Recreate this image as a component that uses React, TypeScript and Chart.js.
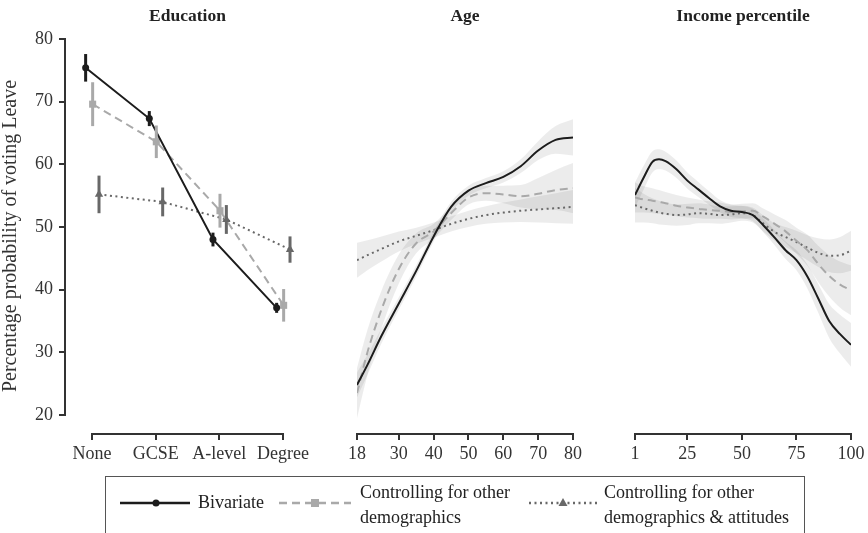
import React, { useEffect, useRef } from 'react';
import { Chart, registerables } from 'chart.js';

Chart.register(...registerables);

const FONT = '"Liberation Serif", "Times New Roman", serif';

// ---------- data ----------
const yTicks = [20, 30, 40, 50, 60, 70, 80];

const eduCategories = ['None', 'GCSE', 'A-level', 'Degree'];
const eduTicks = [1, 2, 3, 4];
const eduBivariate = [75.4, 67.3, 48.0, 37.1];
const eduBivariateErr = [2.2, 1.2, 1.1, 0.8];
const eduDemog = [69.6, 63.6, 52.6, 37.5];
const eduDemogErr = [3.5, 2.6, 2.7, 2.6];
const eduAttit = [55.2, 54.0, 51.2, 46.4];
const eduAttitErr = [3.0, 2.3, 2.3, 2.1];

const ageX = [18, 21, 25, 30, 35, 40, 45, 50, 55, 60, 65, 70, 75, 80];
const ageTicks = [18, 30, 40, 50, 60, 70, 80];
const ageBivariate = [24.8, 28.0, 32.6, 37.8, 43.0, 48.5, 53.2, 55.8, 57.0, 58.0, 59.7, 62.2, 63.9, 64.3];
const ageBivariateSe = [2.0, 1.6, 1.2, 1.0, 0.9, 0.8, 0.8, 0.8, 0.8, 0.9, 1.1, 1.5, 2.2, 2.9];
const ageDemog = [23.5, 30.0, 36.8, 43.3, 47.4, 49.3, 52.2, 54.7, 55.4, 55.2, 54.9, 55.3, 55.9, 56.2];
const ageDemogSe = [4.0, 3.6, 3.0, 2.3, 1.6, 1.2, 1.1, 1.1, 1.2, 1.4, 1.8, 2.5, 3.2, 4.0];
const ageAttit = [44.7, 45.5, 46.5, 47.7, 48.6, 49.5, 50.5, 51.3, 51.9, 52.3, 52.6, 52.8, 53.0, 53.2];
const ageAttitSe = [2.8, 2.4, 2.0, 1.6, 1.3, 1.2, 1.2, 1.3, 1.4, 1.6, 1.8, 2.1, 2.4, 2.7];

const incX = [1, 5, 9, 12, 15, 20, 25, 30, 35, 40, 45, 50, 55, 60, 65, 70, 75, 80, 85, 90, 95, 100];
const incTicks = [1, 25, 50, 75, 100];
const incBivariate = [55.1, 57.9, 60.4, 60.8, 60.5, 59.2, 57.4, 56.0, 54.6, 53.3, 52.6, 52.4, 51.9, 50.2, 48.3, 46.3, 44.7, 42.1, 38.6, 35.0, 32.9, 31.2];
const incBivariateSe = [2.0, 1.9, 1.7, 1.6, 1.5, 1.4, 1.3, 1.2, 1.1, 1.0, 1.0, 1.0, 1.0, 1.1, 1.2, 1.4, 1.6, 1.9, 2.3, 2.7, 3.1, 3.5];
const incDemog = [54.7, 54.4, 54.2, 54.0, 53.8, 53.4, 53.1, 52.9, 52.7, 52.6, 52.4, 52.5, 52.6, 51.6, 50.5, 49.3, 47.8, 46.3, 44.1, 42.2, 40.8, 39.9];
const incDemogSe = [2.4, 2.1, 2.0, 1.9, 1.8, 1.7, 1.6, 1.5, 1.4, 1.3, 1.2, 1.2, 1.2, 1.3, 1.5, 1.8, 2.1, 2.5, 2.9, 3.3, 3.7, 4.0];
const incAttit = [53.5, 53.0, 52.6, 52.3, 52.1, 51.9, 52.0, 52.2, 52.1, 51.9, 52.0, 52.2, 51.9, 50.5, 49.2, 48.4, 47.6, 46.7, 45.9, 45.4, 45.5, 46.2];
const incAttitSe = [2.8, 2.3, 2.0, 1.9, 1.8, 1.7, 1.7, 1.6, 1.5, 1.4, 1.3, 1.2, 1.2, 1.3, 1.4, 1.6, 1.8, 2.0, 2.3, 2.6, 2.9, 3.2];

// ---------- styles ----------
const BLACK = '#1c1c1c';
const LIGHT = '#a9a9a9';
const DARK = '#686868';
const BAND = 'rgba(0,0,0,0.075)';
const AXIS = '#333';
const DASH = [8, 5];
const DOT = [2, 3.5];

const Y_MIN = 17.128;
const Y_MAX = 80;

const rAxesPlugin = {
  id: 'rAxes',
  afterDraw(chart: any, _args: any, opts: any) {
    const { ctx, chartArea } = chart;
    const xs = chart.scales.x;
    const t = xs.ticks;
    const x0 = xs.getPixelForValue(t[0].value);
    const x1 = xs.getPixelForValue(t[t.length - 1].value);
    ctx.save();
    ctx.strokeStyle = AXIS;
    ctx.lineWidth = 2;
    ctx.beginPath();
    ctx.moveTo(x0 - 1, chartArea.bottom + 1);
    ctx.lineTo(x1 + 1, chartArea.bottom + 1);
    ctx.stroke();
    if (opts.showY) {
      const ys = chart.scales.y;
      const yt = ys.ticks;
      const ya = ys.getPixelForValue(yt[yt.length - 1].value);
      const yb = ys.getPixelForValue(yt[0].value);
      ctx.beginPath();
      ctx.moveTo(chartArea.left - 1, ya - 1);
      ctx.lineTo(chartArea.left - 1, yb + 1);
      ctx.stroke();
    }
    ctx.fillStyle = '#222';
    ctx.font = `bold 17.5px ${FONT}`;
    ctx.textAlign = 'center';
    ctx.textBaseline = 'alphabetic';
    ctx.fillText(opts.title, (x0 + x1) / 2, 21);
    ctx.restore();
  },
};

const errorBarPlugin = {
  id: 'errBars',
  afterDatasetsDraw(chart: any) {
    const { ctx } = chart;
    const ys = chart.scales.y;
    chart.data.datasets.forEach((ds: any, i: number) => {
      if (!ds.errors) return;
      const meta = chart.getDatasetMeta(i);
      meta.data.forEach((pt: any, j: number) => {
        const v = ds.data[j].y;
        const e = ds.errors[j];
        ctx.save();
        ctx.strokeStyle = ds.borderColor;
        ctx.lineWidth = 3;
        ctx.beginPath();
        ctx.moveTo(pt.x, ys.getPixelForValue(v + e));
        ctx.lineTo(pt.x, ys.getPixelForValue(v - e));
        ctx.stroke();
        ctx.restore();
      });
    });
  },
};

function makeOptions(
  xmin: number, xmax: number, xTicks: number[], labelFn: (v: number) => string,
  showY: boolean, title: string, padLeft: number, padRight: number
) {
  const grid = { display: true, drawOnChartArea: false, drawTicks: true, tickLength: 7, color: AXIS, lineWidth: 2 };
  return {
    animation: false,
    responsive: false,
    maintainAspectRatio: false,
    devicePixelRatio: 1,
    layout: { padding: { left: padLeft, right: padRight, top: 39, bottom: 7 } },
    plugins: {
      legend: { display: false },
      tooltip: { enabled: false },
      rAxes: { showY, title },
    },
    scales: {
      x: {
        type: 'linear',
        min: xmin,
        max: xmax,
        afterBuildTicks: (s: any) => { s.ticks = xTicks.map((v) => ({ value: v })); },
        afterFit: (s: any) => { s.height = 30; },
        border: { display: false },
        grid,
        ticks: {
          font: { family: FONT, size: 18 },
          color: '#333',
          padding: 3,
          autoSkip: false,
          maxRotation: 0,
          callback: (v: any) => labelFn(Number(v)),
        },
      },
      y: {
        type: 'linear',
        display: showY,
        min: Y_MIN,
        max: Y_MAX,
        afterBuildTicks: (s: any) => { s.ticks = yTicks.map((v) => ({ value: v })); },
        afterFit: (s: any) => { s.width = showY ? 66 : 0; },
        border: { display: false },
        grid,
        ticks: { font: { family: FONT, size: 18 }, color: '#333', padding: 6 },
        title: {
          display: true,
          text: 'Percentage probability of voting Leave',
          font: { family: FONT, size: 20, lineHeight: 1.1 },
          color: '#333',
          padding: { top: 0, bottom: 0 },
        },
      },
    },
  };
}

function curveDatasets(xs: number[], series: { v: number[]; se: number[]; color: string; dash: number[] }[]) {
  const lines: any[] = series.map((s) => ({
    data: xs.map((x, i) => ({ x, y: s.v[i] })),
    borderColor: s.color,
    backgroundColor: s.color,
    borderWidth: 2,
    borderDash: s.dash,
    pointRadius: 0,
    cubicInterpolationMode: 'monotone',
    fill: false,
  }));
  const bands: any[] = [];
  series.forEach((s, k) => {
    const loIndex = series.length + k * 2;
    bands.push({
      data: xs.map((x, i) => ({ x, y: s.v[i] - s.se[i] })),
      borderColor: 'rgba(0,0,0,0)',
      borderWidth: 1,
      pointRadius: 0,
      cubicInterpolationMode: 'monotone',
      fill: false,
    });
    bands.push({
      data: xs.map((x, i) => ({ x, y: s.v[i] + s.se[i] })),
      borderColor: 'rgba(0,0,0,0)',
      borderWidth: 1,
      backgroundColor: BAND,
      pointRadius: 0,
      cubicInterpolationMode: 'monotone',
      fill: { target: loIndex },
    });
  });
  return [...lines, ...bands];
}

function eduDatasets() {
  const series = [
    { v: eduBivariate, e: eduBivariateErr, color: BLACK, dash: [] as number[], style: 'circle', r: 3.5, off: -0.1 },
    { v: eduDemog, e: eduDemogErr, color: LIGHT, dash: DASH, style: 'rect', r: 5, off: 0.01 },
    { v: eduAttit, e: eduAttitErr, color: DARK, dash: DOT, style: 'triangle', r: 4.8, off: 0.11 },
  ];
  return series.map((s) => ({
    data: eduTicks.map((x, i) => ({ x: x + s.off, y: s.v[i] })),
    errors: s.e,
    borderColor: s.color,
    backgroundColor: s.color,
    borderWidth: 2,
    borderDash: s.dash,
    pointStyle: s.style,
    pointRadius: s.r,
    pointBorderWidth: 0,
    tension: 0,
    fill: false,
  }));
}

const W = 868;
const H = 470;

function Panel({ make }: { make: () => any }) {
  const ref = useRef<HTMLCanvasElement | null>(null);
  useEffect(() => {
    if (!ref.current) return;
    const chart = new Chart(ref.current, make());
    return () => chart.destroy();
  }, []);
  return (
    <canvas
      ref={ref}
      width={W}
      height={H}
      style={{ position: 'absolute', left: 0, top: 0, width: W, height: H }}
    />
  );
}

function makeEdu() {
  return {
    type: 'line',
    data: { datasets: eduDatasets() },
    options: makeOptions(0.5916, 4.204, eduTicks, (v) => eduCategories[v - 1] ?? '', true, 'Education', 0, W - 296),
    plugins: [rAxesPlugin, errorBarPlugin],
  };
}

function makeAge() {
  return {
    type: 'line',
    data: {
      datasets: curveDatasets(ageX, [
        { v: ageBivariate, se: ageBivariateSe, color: BLACK, dash: [] },
        { v: ageDemog, se: ageDemogSe, color: LIGHT, dash: DASH },
        { v: ageAttit, se: ageAttitSe, color: DARK, dash: DOT },
      ]),
    },
    options: makeOptions(18, 80, ageTicks, (v) => String(v), false, 'Age', 357, W - 573),
    plugins: [rAxesPlugin],
  };
}

function makeInc() {
  return {
    type: 'line',
    data: {
      datasets: curveDatasets(incX, [
        { v: incBivariate, se: incBivariateSe, color: BLACK, dash: [] },
        { v: incDemog, se: incDemogSe, color: LIGHT, dash: DASH },
        { v: incAttit, se: incAttitSe, color: DARK, dash: DOT },
      ]),
    },
    options: makeOptions(1, 100, incTicks, (v) => String(v), false, 'Income percentile', 635, W - 851),
    plugins: [rAxesPlugin],
  };
}

const textStyle: React.CSSProperties = {
  position: 'absolute',
  fontFamily: FONT,
  fontSize: 18,
  lineHeight: '25px',
  color: '#222',
  whiteSpace: 'nowrap',
};

function Legend() {
  return (
    <>
      <div
        style={{
          position: 'absolute',
          left: 105,
          top: 476,
          width: 700,
          height: 90,
          border: '1.5px solid #555',
          boxSizing: 'border-box',
        }}
      />
      <svg width={W} height={533} style={{ position: 'absolute', left: 0, top: 0, pointerEvents: 'none' }}>
        <line x1={120} y1={503} x2={190} y2={503} stroke={BLACK} strokeWidth={2.5} />
        <circle cx={156} cy={503} r={3.5} fill={BLACK} />
        <line x1={279} y1={503} x2={351} y2={503} stroke={LIGHT} strokeWidth={2.5} strokeDasharray="8 5" />
        <rect x={311} y={499} width={8} height={8} fill={LIGHT} />
        <line x1={529} y1={503} x2={597} y2={503} stroke={DARK} strokeWidth={2.5} strokeDasharray="2 3.5" />
        <polygon points="563,498 567.5,506 558.5,506" fill={DARK} />
      </svg>
      <div style={{ ...textStyle, left: 198, top: 490 }}>Bivariate</div>
      <div style={{ ...textStyle, left: 360, top: 480 }}>
        Controlling for other
        <br />
        demographics
      </div>
      <div style={{ ...textStyle, left: 604, top: 480 }}>
        Controlling for other
        <br />
        demographics &amp; attitudes
      </div>
    </>
  );
}

export default function App() {
  return (
    <div
      style={{
        position: 'absolute',
        left: 0,
        top: 0,
        width: W,
        height: 533,
        background: '#fff',
        overflow: 'hidden',
      }}
    >
      <Panel make={makeEdu} />
      <Panel make={makeAge} />
      <Panel make={makeInc} />
      <Legend />
    </div>
  );
}
